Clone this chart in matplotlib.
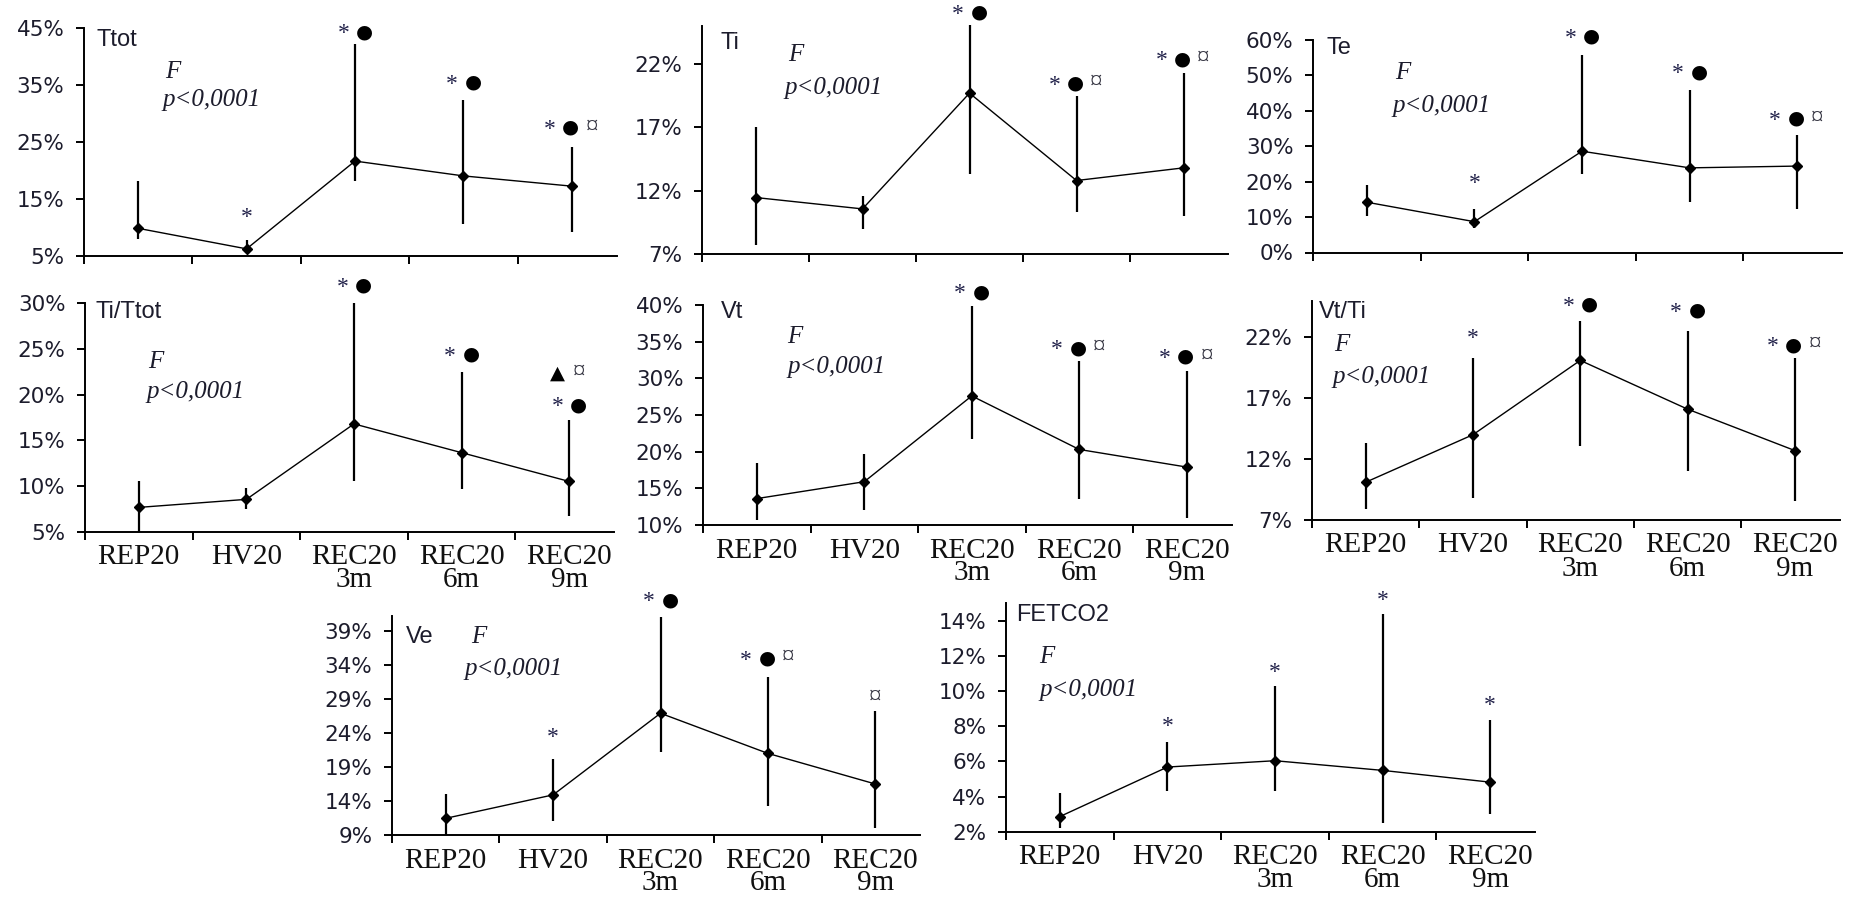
import matplotlib
matplotlib.use("Agg")
import matplotlib.pyplot as plt
import numpy as np

categories = ["REP20", "HV20", "REC20\n3m", "REC20\n6m", "REC20\n9m"]

# means, lower and upper ends of the bars (%)
ttot_mean = [9.8, 6.2, 21.6, 19.0, 17.2]
ttot_lo = [8.0, 5.4, 18.1, 10.5, 9.1]
ttot_hi = [18.1, 7.7, 42.1, 32.3, 24.1]
ttot_marks = ["", "*", "* ●", "* ●", "* ● ¤"]
ttot_mark_y = [0, 12.1, 44.3, 35.4, 27.5]

ti_mean = [11.46, 10.56, 19.7, 12.8, 13.8]
ti_lo = [7.7, 9.0, 13.3, 10.3, 10.0]
ti_hi = [17.0, 11.6, 25.1, 19.5, 21.3]
ti_marks = ["", "", "* ●", "* ● ¤", "* ● ¤"]
ti_mark_y = [0, 0, 26.1, 20.5, 22.4]

te_mean = [14.2, 8.7, 28.6, 23.9, 24.4]
te_lo = [10.3, 6.8, 22.1, 14.3, 12.4]
te_hi = [19.2, 12.4, 55.9, 46.0, 33.3]
te_marks = ["", "*", "* ●", "* ●", "* ● ¤"]
te_mark_y = [0, 20.0, 61.1, 51.0, 37.9]

titot_mean = [7.66, 8.54, 16.8, 13.65, 10.5]
titot_lo = [5.0, 7.45, 10.5, 9.67, 6.7]
titot_hi = [10.5, 9.8, 30.0, 22.5, 17.2]
titot_marks = ["", "", "* ●", "* ●", "* ●"]
titot_mark_y = [0, 0, 32.0, 24.4, 18.9]
titot_extra = ["", "", "", "", "▲ ¤"]
titot_extra_y = [0, 0, 0, 0, 22.4]

vt_mean = [13.6, 15.9, 27.6, 20.3, 17.9]
vt_lo = [10.7, 12.0, 21.7, 13.6, 11.0]
vt_hi = [18.5, 19.7, 39.9, 32.4, 31.0]
vt_marks = ["", "", "* ●", "* ● ¤", "* ● ¤"]
vt_mark_y = [0, 0, 41.8, 34.2, 33.0]

vtti_mean = [10.1, 14.0, 20.1, 16.1, 12.7]
vtti_lo = [7.9, 8.8, 13.1, 11.0, 8.6]
vtti_hi = [13.3, 20.3, 23.3, 22.5, 20.3]
vtti_marks = ["", "*", "* ●", "* ●", "* ● ¤"]
vtti_mark_y = [0, 22.1, 24.7, 24.2, 21.4]

ve_mean = [11.45, 14.9, 26.9, 21.0, 16.5]
ve_lo = [9.0, 11.1, 21.2, 13.2, 10.0]
ve_hi = [15.0, 20.2, 41.0, 32.3, 27.3]
ve_marks = ["", "*", "* ●", "* ● ¤", "¤"]
ve_mark_y = [0, 23.7, 43.6, 35.0, 29.2]

fet_mean = [2.86, 5.68, 6.04, 5.49, 4.82]
fet_lo = [2.19, 4.34, 4.34, 2.5, 2.99]
fet_hi = [4.23, 7.08, 10.3, 14.4, 8.34]
fet_marks = ["", "*", "*", "*", "*"]
fet_mark_y = [0, 8.1, 11.2, 15.3, 9.3]

W, H = 1862, 898
fig = plt.figure(figsize=(W / 100, H / 100), dpi=100)

SERIF = ["Liberation Serif", "DejaVu Serif"]
SANS = ["Liberation Sans", "DejaVu Sans"]
TXT = "#1c1c2c"
XR = 4.42  # right end of the x axis, in category units


def make_axes(x0, ytop, step, ybot):
    x1 = x0 + (XR + 0.5) * step
    return fig.add_axes([x0 / W, 1 - ybot / H, (x1 - x0) / W, (ybot - ytop) / H])


def put_marks(ax, x, y, s):
    toks = s.split()
    n = len(toks)
    step = 21
    for k, t in enumerate(toks):
        dx = (k - (n - 1) / 2) * step - (1 if n > 1 else 0)
        dy = 0
        if t == "*":
            kw = dict(fontsize=17, color="#22224a", family=SERIF)
            dy = -2
        elif t == "●":
            kw = dict(fontsize=14, color="black", family=["DejaVu Sans"])
        elif t == "▲":
            kw = dict(fontsize=14, color="black", family=["DejaVu Sans"])
        else:
            kw = dict(fontsize=18, color="#333340", family=SERIF)
        ax.annotate(t, (x, y), xytext=(dx * 0.72, dy * 0.72), textcoords="offset points",
                    ha="center", va="center", annotation_clip=False, **kw)


def panel(rect, name, mean, lo, hi, marks, mark_y, ylim, yticks, labels,
          name_pos, f_pos, p_pos):
    ax = make_axes(*rect)
    x = np.arange(len(categories))
    ax.vlines(x, lo, hi, color="black", lw=1.6, clip_on=False, zorder=2)
    ax.plot(x, mean, color="black", lw=1.0, marker="D", ms=5, clip_on=False, zorder=3)
    for xi, s, yy in zip(x, marks, mark_y):
        if s:
            put_marks(ax, xi, yy, s)
    ax.set_xlim(-0.5, XR)
    ax.set_ylim(*ylim)
    ax.set_yticks(yticks)
    ax.set_yticklabels([f"{t}%" for t in yticks], family=["DejaVu Sans"], fontsize=15.5, color=TXT)
    ax.set_xticks(np.arange(len(categories)) - 0.5)
    ax.set_xticklabels([])
    ax.tick_params(axis="x", which="major", length=6, width=1.4, direction="out")
    ax.tick_params(axis="y", length=6, width=1.4, pad=8)
    if labels:
        ax.set_xticks(x, minor=True)
        ax.set_xticklabels(categories, minor=True, family=SERIF, fontsize=21,
                           linespacing=0.85, color="#111111")
        ax.tick_params(axis="x", which="minor", length=0, pad=9)
    for s in ["top", "right"]:
        ax.spines[s].set_visible(False)
    ax.spines["left"].set_linewidth(1.4)
    ax.spines["bottom"].set_linewidth(1.4)
    ax.patch.set_alpha(0)
    ax.text(name_pos[0], name_pos[1], name, transform=ax.transAxes, family=SANS,
            fontsize=17, ha="left", va="center", color=TXT)
    ax.text(f_pos[0], f_pos[1], "F", transform=ax.transAxes, family=SERIF,
            fontsize=18, style="italic", ha="left", va="center", color=TXT)
    ax.text(p_pos[0], p_pos[1], "p<0,0001", transform=ax.transAxes, family=SERIF,
            fontsize=18, style="italic", ha="left", va="center", color=TXT)
    return ax


panel((84, 27.7, 108.4, 255.7), "Ttot", ttot_mean, ttot_lo, ttot_hi, ttot_marks, ttot_mark_y,
      (5, 45), [5, 15, 25, 35, 45], False, (0.024, 0.946), (0.152, 0.807), (0.148, 0.683))
panel((702, 26, 107.0, 254), "Ti", ti_mean, ti_lo, ti_hi, ti_marks, ti_mark_y,
      (7, 25), [7, 12, 17, 22], False, (0.035, 0.925), (0.164, 0.873), (0.157, 0.728))
panel((1313, 40, 107.6, 252.5), "Te", te_mean, te_lo, te_hi, te_marks, te_mark_y,
      (0, 60), [0, 10, 20, 30, 40, 50, 60], False, (0.026, 0.962), (0.156, 0.844), (0.15, 0.69))
ax4 = panel((85, 303.3, 107.6, 531.7), "Ti/Ttot", titot_mean, titot_lo, titot_hi, titot_marks,
            titot_mark_y, (5, 30), [5, 10, 15, 20, 25, 30], True,
            (0.02, 0.963), (0.12, 0.745), (0.117, 0.613))
for xi, s, yy in zip(range(5), titot_extra, titot_extra_y):
    if s:
        put_marks(ax4, xi, yy, s)
panel((703, 305, 107.5, 525), "Vt", vt_mean, vt_lo, vt_hi, vt_marks, vt_mark_y,
      (10, 40), [10, 15, 20, 25, 30, 35, 40], True, (0.033, 0.97), (0.16, 0.856), (0.16, 0.72))
panel((1312, 300.7, 107.3, 520), "Vt/Ti", vtti_mean, vtti_lo, vtti_hi, vtti_marks, vtti_mark_y,
      (7, 25), [7, 12, 17, 22], True, (0.013, 0.95), (0.042, 0.80), (0.038, 0.65))
panel((392, 616, 107.4, 835), "Ve", ve_mean, ve_lo, ve_hi, ve_marks, ve_mark_y,
      (9, 41.2), [9, 14, 19, 24, 29, 34, 39], True, (0.027, 0.905), (0.149, 0.905), (0.137, 0.76))
panel((1006, 603.3, 107.6, 831.7), "FETCO2", fet_mean, fet_lo, fet_hi, fet_marks, fet_mark_y,
      (2, 15), [2, 4, 6, 8, 10, 12, 14], True, (0.019, 0.95), (0.063, 0.766), (0.063, 0.62))

fig.savefig("out.png", dpi=100)
